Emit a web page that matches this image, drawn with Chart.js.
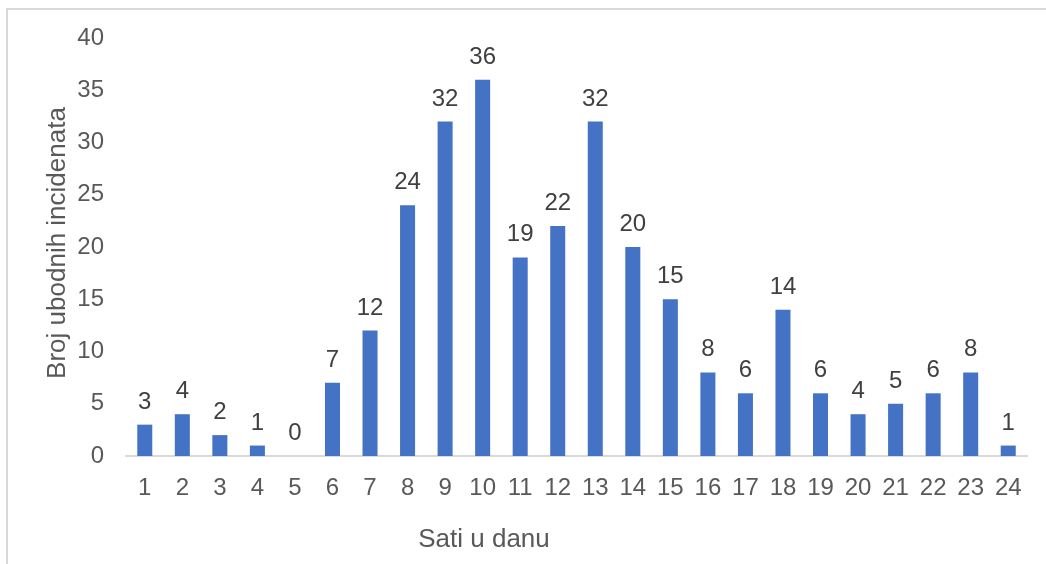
<!DOCTYPE html>
<html>
<head>
<meta charset="utf-8">
<script src="https://cdn.jsdelivr.net/npm/chart.js@4"></script>
<style>
  html, body { margin: 0; padding: 0; background: #fff; overflow: hidden; }
  #frame { position: absolute; left: 6px; top: 8px; width: 1100px; height: 600px; border: 2px solid #d9d9d9; box-sizing: border-box; }
  #wrap { position: absolute; left: 0; top: 0; width: 1046px; height: 564px; }
</style>
</head>
<body>
<div id="frame"></div>
<div id="wrap"><canvas id="chart"></canvas></div>
<script>
// hours of the day and count per hour
const hours = ['1','2','3','4','5','6','7','8','9','10','11','12','13','14','15','16','17','18','19','20','21','22','23','24'];
const incidents = [3, 4, 2, 1, 0, 7, 12, 24, 32, 36, 19, 22, 32, 20, 15, 8, 6, 14, 6, 4, 5, 6, 8, 1];
const yTitle = 'Broj ubodnih incidenata';
const xTitle = 'Sati u danu';

const FONT = '"Liberation Sans", Arial, sans-serif';

// value labels above bars + axis titles
const labelsPlugin = {
  id: 'labelsPlugin',
  afterDatasetsDraw(chart) {
    const ctx = chart.ctx;
    const meta = chart.getDatasetMeta(0);
    ctx.save();
    ctx.font = '24px ' + FONT;
    ctx.fillStyle = '#404040';
    ctx.textAlign = 'center';
    ctx.textBaseline = 'alphabetic';
    meta.data.forEach((bar, i) => {
      ctx.fillText(String(incidents[i]), bar.x, bar.y - 16);
    });

    ctx.font = '26px ' + FONT;
    ctx.fillStyle = '#595959';
    ctx.fillText(xTitle, 484, 547);

    ctx.translate(65, 243);
    ctx.rotate(-Math.PI / 2);
    ctx.fillText(yTitle, 0, 0);
    ctx.restore();
  }
};

new Chart(document.getElementById('chart'), {
  type: 'bar',
  data: {
    labels: hours,
    datasets: [{
      data: incidents,
      backgroundColor: '#4472C4',
      categoryPercentage: 1,
      barPercentage: 0.4
    }]
  },
  options: {
    responsive: true,
    maintainAspectRatio: false,
    animation: false,
    layout: { padding: { top: 38, right: 19, left: 0, bottom: 0 } },
    plugins: {
      legend: { display: false },
      tooltip: { enabled: false }
    },
    scales: {
      x: {
        grid: { display: false, drawTicks: false },
        border: { display: true, color: '#d9d9d9', width: 2 },
        ticks: { color: '#595959', font: { family: FONT, size: 24 }, padding: 18, maxRotation: 0, autoSkip: false },
        afterFit(scale) { scale.height = 108; }
      },
      y: {
        min: 0,
        max: 40,
        grid: { display: false, drawTicks: false },
        border: { display: false },
        ticks: { stepSize: 5, color: '#595959', font: { family: FONT, size: 24 }, padding: 22 },
        afterFit(scale) { scale.width = 126; }
      }
    }
  },
  plugins: [labelsPlugin]
});
</script>
</body>
</html>
